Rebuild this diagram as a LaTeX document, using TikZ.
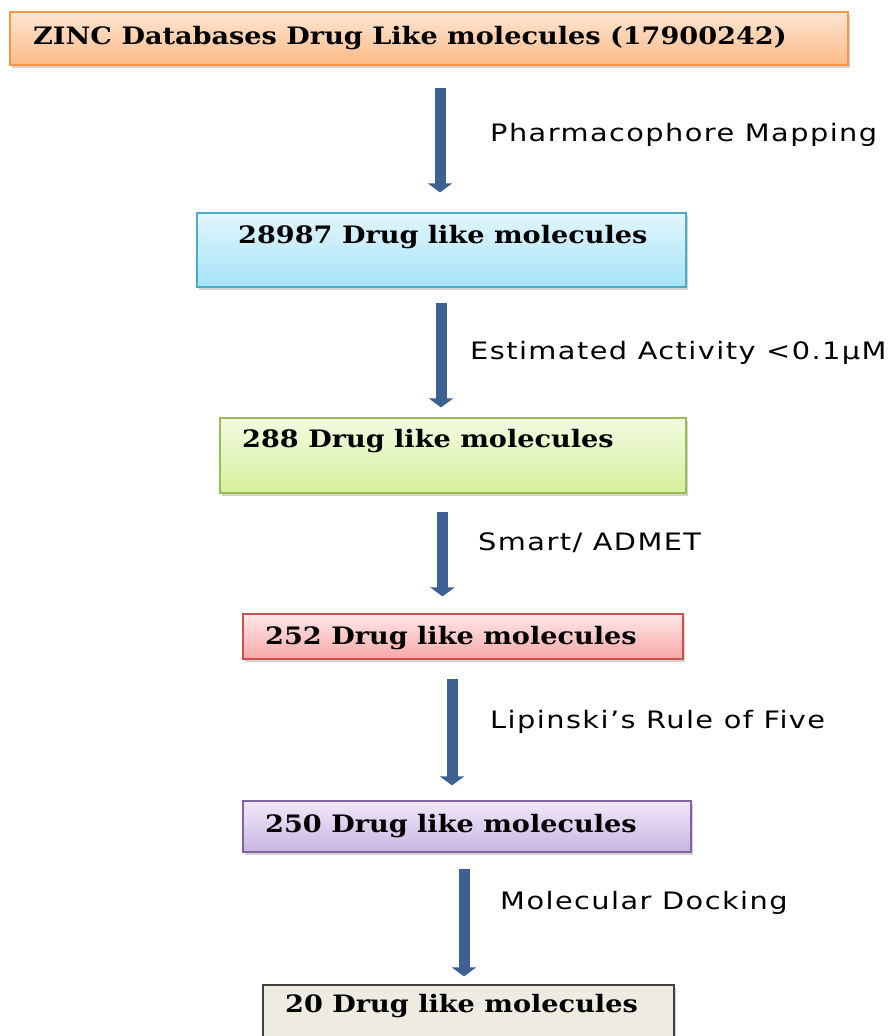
\documentclass[tikz,border=0pt]{standalone}
\usepackage{fontspec}
\setmainfont{DejaVu Serif}[FakeStretch=1.13]
\newfontfamily\labelfont{DejaVu Sans}[FakeStretch=1.2, LetterSpace=6]
\usetikzlibrary{arrows.meta,shadows}

\definecolor{flowblue}{RGB}{62,96,146}
\definecolor{orTop}{HTML}{FEE6D2}\definecolor{orBot}{HTML}{FBBA88}\definecolor{orLine}{HTML}{F79646}
\definecolor{blTop}{HTML}{E2F5FC}\definecolor{blBot}{HTML}{A6E4F8}\definecolor{blLine}{HTML}{4BACC6}
\definecolor{grTop}{HTML}{F3FBE2}\definecolor{grBot}{HTML}{D4F09C}\definecolor{grLine}{HTML}{9BBB59}
\definecolor{rdTop}{HTML}{FDE8E8}\definecolor{rdBot}{HTML}{F6A8A6}\definecolor{rdLine}{HTML}{D0504D}
\definecolor{puTop}{HTML}{F1E9F9}\definecolor{puBot}{HTML}{C9B5E2}\definecolor{puLine}{HTML}{8064A2}
\definecolor{bgFill}{HTML}{EEECE1}\definecolor{bgLine}{HTML}{404040}

\tikzset{
  stage/.style={rectangle, draw, line width=1.2pt, inner sep=0pt,
    drop shadow={opacity=0.35, shadow xshift=2pt, shadow yshift=-3pt}},
  stagetext/.style={anchor=west, inner sep=0pt, font=\bfseries\fontsize{24}{26}\selectfont, text=black},
  steplabel/.style={anchor=west, inner sep=0pt, font=\labelfont\fontsize{24}{27}\selectfont, text=black},
  flow/.style={draw=flowblue, line width=11pt,
    -{Triangle[width=24pt,length=9pt]}}
}

\begin{document}
\begin{tikzpicture}[x=1pt,y=-1pt]
\useasboundingbox (0,0) rectangle (888,1036);

% filtering stages
\node[stage, draw=orLine, top color=orTop, bottom color=orBot,
      minimum width=838pt, minimum height=53pt] (zinc) at (429,38.5) {};
\node[stagetext] (zinct) at (33,38) {ZINC Databases Drug Like molecules (17900242)};

\node[stage, draw=blLine, top color=blTop, bottom color=blBot,
      minimum width=489pt, minimum height=74pt] (s1) at (441.5,250) {};
\node[stagetext] (s1t) at (238,237) {28987 Drug like molecules};

\node[stage, draw=grLine, top color=grTop, bottom color=grBot,
      minimum width=466pt, minimum height=75pt] (s2) at (453,455.5) {};
\node[stagetext] (s2t) at (242,441) {288 Drug like molecules};

\node[stage, draw=rdLine, top color=rdTop, bottom color=rdBot,
      minimum width=440pt, minimum height=45pt] (s3) at (463,636.5) {};
\node[stagetext] (s3t) at (265,638) {252 Drug like molecules};

\node[stage, draw=puLine, top color=puTop, bottom color=puBot,
      minimum width=448pt, minimum height=51pt] (s4) at (467,826.5) {};
\node[stagetext] (s4t) at (265,826) {250 Drug like molecules};

\node[stage, draw=bgLine, fill=bgFill,
      minimum width=411pt, minimum height=60pt] (s5) at (468.5,1015) {};
\node[stagetext] (s5t) at (285,1006) {20 Drug like molecules};

% arrow start points below each stage
\coordinate (a1) at ([xshift=11pt,yshift=-22pt]zinc.south);
\coordinate (a2) at ([xshift=-0.5pt,yshift=-15pt]s1.south);
\coordinate (a3) at ([xshift=-10.5pt,yshift=-18pt]s2.south);
\coordinate (a4) at ([xshift=-11pt,yshift=-19pt]s3.south);
\coordinate (a5) at ([xshift=-3pt,yshift=-16pt]s4.south);

% vertical arrows between stages
\draw[flow] (a1) -- ([yshift=20pt]a1 |- s1.north);
\draw[flow] (a2) -- ([yshift=10pt]a2 |- s2.north);
\draw[flow] (a3) -- ([yshift=17pt]a3 |- s3.north);
\draw[flow] (a4) -- ([yshift=15pt]a4 |- s4.north);
\draw[flow] (a5) -- ([yshift=8pt]a5 |- s5.north);

% step labels
\node[steplabel] (l1) at (490,135) {Pharmacophore Mapping};
\node[steplabel] (l2) at (470,353) {Estimated Activity <0.1µM};
\node[steplabel] (l3) at (478,543) {Smart/ ADMET};
\node[steplabel] (l4) at (490,722) {Lipinski’s Rule of Five};
\node[steplabel] (l5) at (500,903) {Molecular Docking};
\end{tikzpicture}
\end{document}
